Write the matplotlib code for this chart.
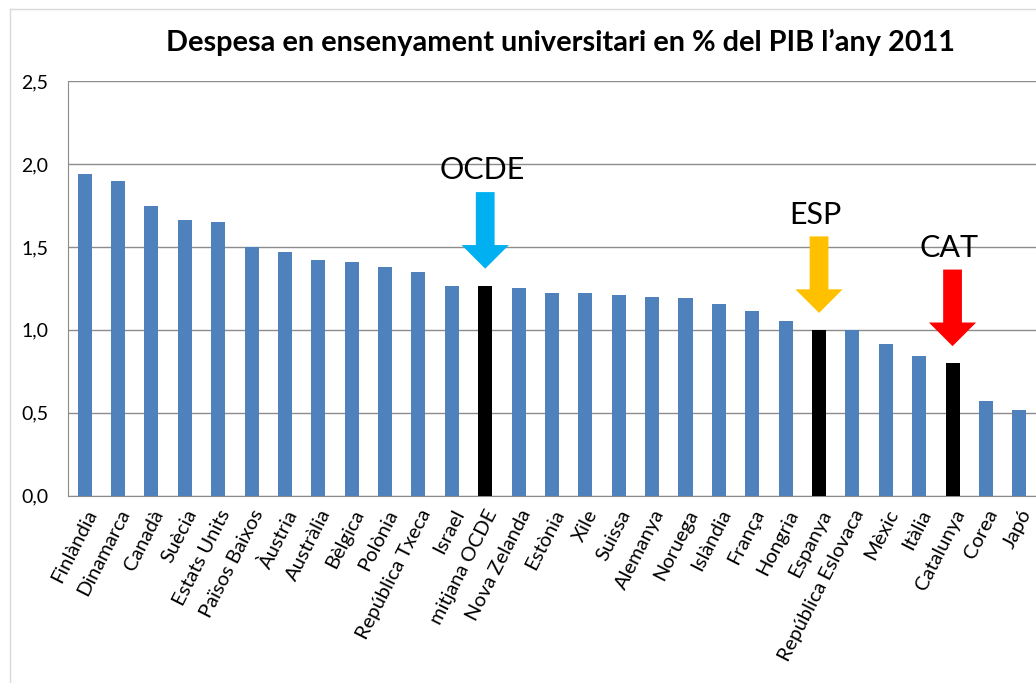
import matplotlib
matplotlib.use('Agg')
import matplotlib.pyplot as plt
from matplotlib.patches import FancyArrowPatch

plt.rcParams['font.family'] = ['Lato', 'DejaVu Sans']

countries = ['Finlàndia', 'Dinamarca', 'Canadà', 'Suècia', 'Estats Units',
             'Països Baixos', 'Àustria', 'Austràlia', 'Bèlgica', 'Polònia',
             'República Txeca', 'Israel', 'mitjana OCDE', 'Nova Zelanda',
             'Estònia', 'Xile', 'Suissa', 'Alemanya', 'Noruega', 'Islàndia',
             'França', 'Hongria', 'Espanya', 'República Eslovaca', 'Mèxic',
             'Itàlia', 'Catalunya', 'Corea', 'Japó']
values = [1.94, 1.90, 1.745, 1.66, 1.65, 1.50, 1.47, 1.42, 1.41, 1.38,
          1.35, 1.267, 1.267, 1.253, 1.22, 1.22, 1.209, 1.197, 1.19, 1.156,
          1.112, 1.054, 1.00, 0.997, 0.913, 0.84, 0.80, 0.569, 0.519]
highlight = ['mitjana OCDE', 'Espanya', 'Catalunya']
markers = [('mitjana OCDE', 'OCDE', '#00B0F0'),
           ('Espanya', 'ESP', '#FFC000'),
           ('Catalunya', 'CAT', '#FF0000')]

fig = plt.figure(figsize=(10.36, 6.83), dpi=100)
# outer chart border
fig.add_artist(plt.Line2D([0.0097, 0.0097], [0, 0.987], color='#d9d9d9', lw=1))
fig.add_artist(plt.Line2D([0.0097, 1], [0.987, 0.987], color='#d9d9d9', lw=1))

ax = fig.add_axes([0.0656, 0.2742, 0.9344, 0.6072])
x = list(range(len(countries)))
colors = ['black' if c in highlight else '#4F81BD' for c in countries]
ax.bar(x, values, width=0.42, color=colors, zorder=3)

ax.set_xlim(-0.5, len(countries) - 0.5)
ax.set_ylim(0, 2.5)
ax.set_yticks([0, 0.5, 1.0, 1.5, 2.0, 2.5])
ax.set_yticklabels(['0,0', '0,5', '1,0', '1,5', '2,0', '2,5'], fontsize=14)
ax.yaxis.grid(True, color='#8c8c8c', lw=1, zorder=0)
ax.set_xticks(x)
ax.set_xticklabels(countries, rotation=63, ha='right', rotation_mode='anchor',
                   fontsize=14.5)
ax.tick_params(axis='y', length=0, pad=14)
ax.tick_params(axis='x', length=0, pad=8)
for s in ['top', 'right']:
    ax.spines[s].set_visible(False)
ax.spines['left'].set_color('#8c8c8c')
ax.spines['bottom'].set_color('#8c8c8c')

for name, label, col in markers:
    i = countries.index(name)
    v = values[i]
    arr = FancyArrowPatch((i, v + 0.58), (i, v + 0.085),
                          arrowstyle='simple,head_length=17,head_width=34,tail_width=13.5',
                          mutation_scale=1, color=col, lw=0, zorder=4)
    ax.add_patch(arr)
    ax.text(i - 0.1, v + 0.61, label, ha='center', va='bottom', fontsize=22,
            zorder=4)

fig.text(0.541, 0.938, 'Despesa en ensenyament universitari en % del PIB l’any 2011',
         ha='center', va='center', fontsize=20.8, fontweight='bold')

fig.savefig('out.png', dpi=100)
plt.close()
